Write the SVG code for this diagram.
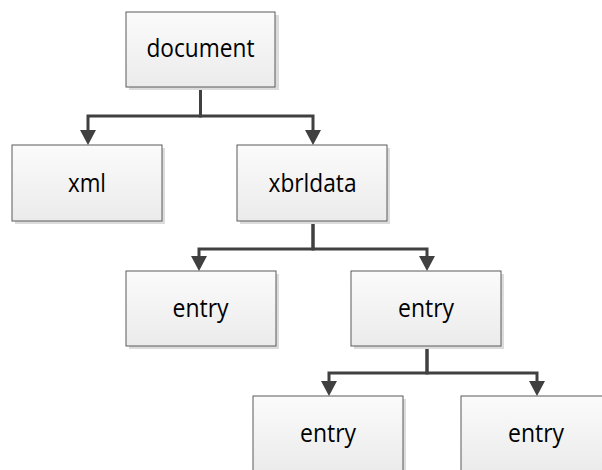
<svg xmlns="http://www.w3.org/2000/svg" width="602" height="470" viewBox="0 0 602 470">
  <defs>
    <linearGradient id="boxFill" x1="0" y1="0" x2="0" y2="1">
      <stop offset="0" stop-color="#fbfbfb"/>
      <stop offset="1" stop-color="#ebebeb"/>
    </linearGradient>
    <marker id="arrow" markerUnits="userSpaceOnUse" markerWidth="18" markerHeight="18" viewBox="0 -9 16 18" refX="0" refY="0" orient="auto">
      <path d="M0,-8 L15,0 L0,8 z" fill="#404040"/>
    </marker>
    <style>
      .shadow { fill: #dcdcdc; }
      .box { fill: url(#boxFill); stroke: #5a5a5a; stroke-width: 1; }
      .label { font-family: "Open Sans", "Liberation Sans", sans-serif; font-size: 25px; fill: #000; text-anchor: middle; }
      .edge { fill: none; stroke: #404040; stroke-width: 3; stroke-linejoin: miter; marker-end: url(#arrow); }
    </style>
  </defs>
  <rect width="602" height="470" fill="#ffffff"/>

  <g id="connectors">
    <path class="edge" d="M200.5,87 V116 H88 V130"/>
    <path class="edge" d="M200.5,87 V116 H313 V130"/>
    <path class="edge" d="M313,221 V249 H199 V256"/>
    <path class="edge" d="M313,221 V249 H427 V256"/>
    <path class="edge" d="M427,346 V373 H329 V381"/>
    <path class="edge" d="M427,346 V373 H537 V381"/>
  </g>

  <g id="document">
    <rect class="shadow" x="129" y="15" width="150" height="75"/>
    <rect class="box" x="126" y="12" width="149" height="75"/>
    <text class="label" x="200.5" y="57" textLength="108" lengthAdjust="spacingAndGlyphs">document</text>
  </g>

  <g id="xml">
    <rect class="shadow" x="15" y="148" width="150" height="76"/>
    <rect class="box" x="12" y="145" width="150" height="76"/>
    <text class="label" x="87" y="191.5" textLength="38" lengthAdjust="spacingAndGlyphs">xml</text>
  </g>

  <g id="xbrldata">
    <rect class="shadow" x="240" y="148" width="150" height="76"/>
    <rect class="box" x="237" y="145" width="150" height="76"/>
    <text class="label" x="312.5" y="191.5" textLength="88" lengthAdjust="spacingAndGlyphs">xbrldata</text>
  </g>

  <g id="entry-1">
    <rect class="shadow" x="129" y="274" width="150" height="75"/>
    <rect class="box" x="126" y="271" width="150" height="75"/>
    <text class="label" x="200.5" y="316.5" textLength="56" lengthAdjust="spacingAndGlyphs">entry</text>
  </g>

  <g id="entry-2">
    <rect class="shadow" x="354" y="274" width="150" height="75"/>
    <rect class="box" x="351" y="271" width="150" height="75"/>
    <text class="label" x="426" y="316.5" textLength="56" lengthAdjust="spacingAndGlyphs">entry</text>
  </g>

  <g id="entry-3">
    <rect class="shadow" x="256" y="399" width="150" height="75"/>
    <rect class="box" x="253" y="396" width="150" height="75"/>
    <text class="label" x="328" y="441.5" textLength="56" lengthAdjust="spacingAndGlyphs">entry</text>
  </g>

  <g id="entry-4">
    <rect class="shadow" x="464" y="399" width="150" height="75"/>
    <rect class="box" x="461" y="396" width="150" height="75"/>
    <text class="label" x="536" y="441.5" textLength="56" lengthAdjust="spacingAndGlyphs">entry</text>
  </g>
</svg>
